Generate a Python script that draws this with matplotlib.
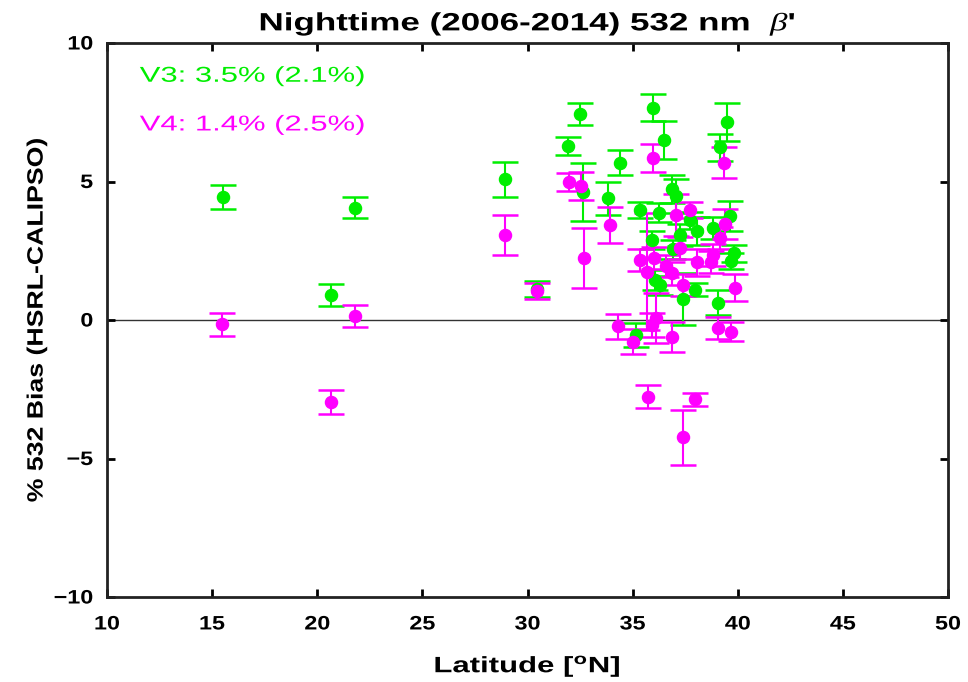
import matplotlib
matplotlib.use("Agg")
import matplotlib.pyplot as plt
from matplotlib.patheffects import AbstractPathEffect
from matplotlib.transforms import Affine2D
import numpy as np

plt.rcParams['font.family'] = ['Liberation Sans', 'DejaVu Sans']
plt.rcParams['mathtext.fontset'] = 'custom'
plt.rcParams['mathtext.it'] = 'Liberation Serif:italic'
plt.rcParams['mathtext.bf'] = 'Liberation Sans:bold'

# V3 comparison: latitude, bias (%), uncertainty
v3_lat = [15.5, 20.65, 21.8, 28.93, 30.43, 31.95, 32.5, 32.65, 33.84, 34.39,
          35.18, 35.35, 35.93, 35.95, 36.06, 36.25, 36.3, 36.49, 36.85, 36.9,
          37.05, 37.25, 37.4, 37.75, 37.96, 38.08, 38.83, 39.05, 39.15, 39.51,
          39.62, 39.7, 39.8]
v3_bias = [4.45, 0.91, 4.05, 5.08, 1.12, 6.28, 7.44, 4.63, 4.39, 5.68,
           -0.54, 3.97, 2.89, 7.67, 1.45, 3.87, 1.25, 6.5, 4.72, 2.55,
           4.48, 3.07, 0.75, 3.6, 1.1, 3.22, 3.31, 0.63, 6.23, 7.16,
           3.75, 2.13, 2.41]
v3_err = [0.43, 0.39, 0.38, 0.64, 0.3, 0.32, 0.41, 1.04, 0.6, 0.45,
          0.44, 0.3, 0.32, 0.5, 0.35, 0.34, 0.35, 0.67, 0.5, 0.35,
          0.6, 0.4, 0.94, 0.3, 0.25, 0.5, 0.4, 0.46, 0.49, 0.69,
          0.54, 0.3, 0.3]

# V4 comparison
v4_lat = [15.45, 20.65, 21.8, 28.93, 30.43, 31.97, 32.54, 32.68, 33.92, 34.3,
          35.02, 35.35, 35.68, 35.74, 35.93, 35.95, 36.0, 36.13, 36.6, 36.85,
          36.85, 37.08, 37.25, 37.4, 37.4, 37.75, 37.99, 38.07, 38.75, 38.83,
          39.05, 39.15, 39.34, 39.39, 39.67, 39.86]
v4_bias = [-0.16, -2.96, 0.13, 3.07, 1.05, 4.99, 4.84, 2.23, 3.43, -0.22,
           -0.78, 2.17, 1.75, -2.77, -0.18, 5.84, 2.25, 0.06, 1.95, 1.68,
           -0.6, 3.79, 2.59, 1.26, -4.24, 3.97, -2.87, 2.08, 2.1, 2.35,
           -0.3, 2.97, 5.68, 3.47, -0.42, 1.17]
v4_err = [0.4, 0.42, 0.4, 0.72, 0.3, 0.33, 0.5, 1.08, 0.66, 0.45,
          0.46, 0.4, 2.1, 0.42, 0.45, 0.5, 0.4, 0.9, 0.4, 0.4,
          0.54, 0.75, 0.4, 0.4, 1.0, 0.3, 0.23, 0.5, 0.4, 0.4,
          0.4, 0.4, 0.55, 0.53, 0.33, 0.5]

x_ticks = [10, 15, 20, 25, 30, 35, 40, 45, 50]
y_ticks = [-10, -5, 0, 5, 10]

GREEN = '#00ee00'
MAGENTA = '#ff00ff'


class Widen(AbstractPathEffect):
    """Draw text glyphs horizontally widened about an anchor point."""

    def __init__(self, sx, anchor='center'):
        super().__init__()
        self.sx = sx
        self.anchor = anchor

    def draw_path(self, renderer, gc, tpath, affine, rgbFace=None):
        ext = tpath.get_extents()
        if self.anchor == 'left':
            cx = ext.x0
        elif self.anchor == 'right':
            cx = ext.x1
        else:
            cx = 0.5 * (ext.x0 + ext.x1)
        local = Affine2D().translate(-cx, 0).scale(self.sx, 1).translate(cx, 0)
        renderer.draw_path(gc, tpath, local + affine, rgbFace)


fig = plt.figure(figsize=(9.68, 6.82), dpi=100)
ax = fig.add_axes([107/968, 1 - 597/682, (948-107)/968, (597-43)/682])

ax.axhline(0, color='#333333', lw=1.0, zorder=1)

style = dict(fmt='o', markersize=8.7, capsize=9.5, elinewidth=1.5,
             capthick=1.8, zorder=3)
ax.errorbar(v3_lat, v3_bias, yerr=v3_err, color=GREEN, **style)
ax.errorbar(v4_lat, v4_bias, yerr=v4_err, color=MAGENTA, **style)

ax.set_xlim(10, 50)
ax.set_ylim(-10, 10)
ax.set_xticks(x_ticks)
ax.set_yticks(y_ticks)

ax.tick_params(direction='in', length=6, width=2, top=True, right=True,
               labelsize=14)
ax.tick_params(axis='x', pad=14)
ax.tick_params(axis='y', pad=10)
for lbl in ax.get_xticklabels():
    lbl.set_fontweight('bold')
    lbl.set_path_effects([Widen(1.2, 'center')])
for lbl in ax.get_yticklabels():
    lbl.set_fontweight('bold')
    lbl.set_path_effects([Widen(1.2, 'right')])
for sp in ax.spines.values():
    sp.set_linewidth(2)
    sp.set_color('#222222')

xl = ax.set_xlabel('Latitude [$\\mathbf{^{o}}$N]', fontsize=16,
                   fontweight='bold', labelpad=14)
xl.set_path_effects([Widen(1.4)])
yl = ax.set_ylabel('% 532 Bias (HSRL-CALIPSO)', fontsize=16,
                   fontweight='bold', labelpad=9)
yl.set_path_effects([Widen(1.2)])
tt = ax.set_title("Nighttime (2006-2014) 532 nm  $\\beta$'", fontsize=18,
                  fontweight='bold', pad=9)
tt.set_path_effects([Widen(1.4)])

t3 = ax.text(0.039, 0.940, 'V3: 3.5% (2.1%)', transform=ax.transAxes,
             color=GREEN, fontsize=15.5, va='center')
t4 = ax.text(0.039, 0.852, 'V4: 1.4% (2.5%)', transform=ax.transAxes,
             color=MAGENTA, fontsize=15.5, va='center')
for t in (t3, t4):
    t.set_path_effects([Widen(1.44, 'left')])

fig.savefig('out.png', dpi=100)
